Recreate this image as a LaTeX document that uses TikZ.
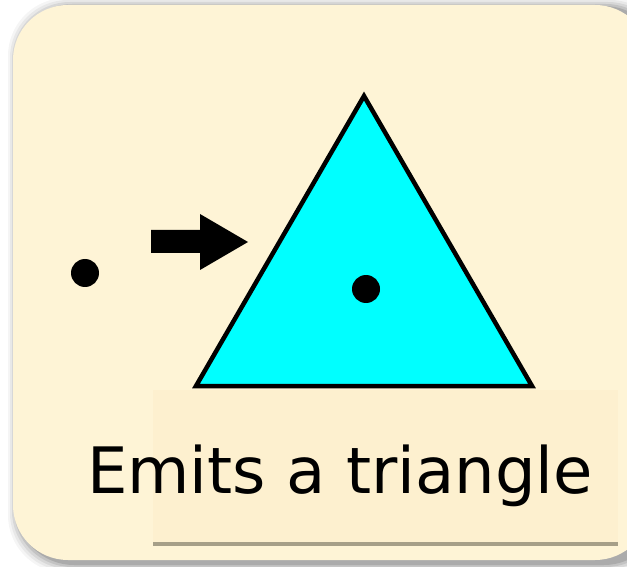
\documentclass[tikz,border=0pt]{standalone}
\usepackage{fontspec}
\setmainfont{DejaVu Sans}
\definecolor{cream}{HTML}{FEF4D6}
\definecolor{boxcream}{HTML}{FDF0CF}
\definecolor{lineg}{HTML}{A69F88}
\definecolor{cyanf}{HTML}{00FFFF}
\begin{document}
\begin{tikzpicture}[x=1pt,y=1pt,
  dotnode/.style={circle,fill=black,inner sep=0pt,minimum size=28pt}]
\useasboundingbox (0,0) rectangle (627,566);
\fill[white] (0,0) rectangle (627,566);
% shadow
\foreach \i/\o in {10/0.04,8/0.05,6/0.07,4/0.09,2/0.12}{
  \fill[black,opacity=\o,rounded corners=58pt] (13-\i+5,6-\i-3) rectangle (660+\i,561+\i-3);
}
% card
\fill[cream,rounded corners=55pt] (13,6) rectangle (650,561);
% text box
\fill[boxcream] (153,21) rectangle (618,176);
\fill[lineg] (153,20) rectangle (618,24);
% triangle
\draw[line width=4.5pt,fill=cyanf,line join=miter] (364,470) -- (532,180) -- (196,180) -- cycle;
\node[dotnode] (inner) at (366,277) {};
\node[dotnode] (left) at (85,293) {};
% arrow
\fill[black] (151,336) -- (200,336) -- (200,352) -- (248,324) -- (200,296) -- (200,313) -- (151,313) -- cycle;
\node[anchor=base west,inner sep=0pt,font=\fontsize{64}{70}\selectfont] (label) at (87,73) {Emits a triangle};
\end{tikzpicture}
\end{document}
